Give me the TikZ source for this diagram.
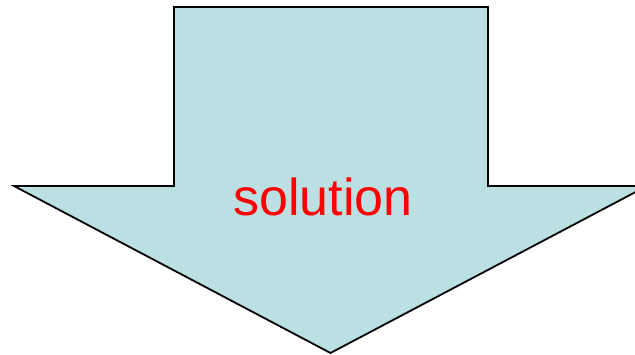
\documentclass[tikz,border=0pt]{standalone}
\usepackage{fontspec}
\setmainfont{Liberation Sans}
\definecolor{arrowfill}{HTML}{BAE0E3}
\definecolor{labelred}{HTML}{FF0000}
\tikzset{bigarrow/.style={draw=black,line width=1.8pt,fill=arrowfill,line join=miter},
  lbl/.style={text=labelred,font=\fontsize{52}{62}\selectfont,inner sep=0pt,anchor=base}}
\begin{document}
\begin{tikzpicture}[x=1pt,y=-1pt]
\useasboundingbox (0,0) rectangle (635,355);
\draw[bigarrow] (174,7) -- (488,7) -- (488,186) -- (647,186) -- (330.5,353) -- (14,186) -- (174,186) -- cycle;
\node[lbl] (label) at (323,215.5) {solution};
\end{tikzpicture}
\end{document}
